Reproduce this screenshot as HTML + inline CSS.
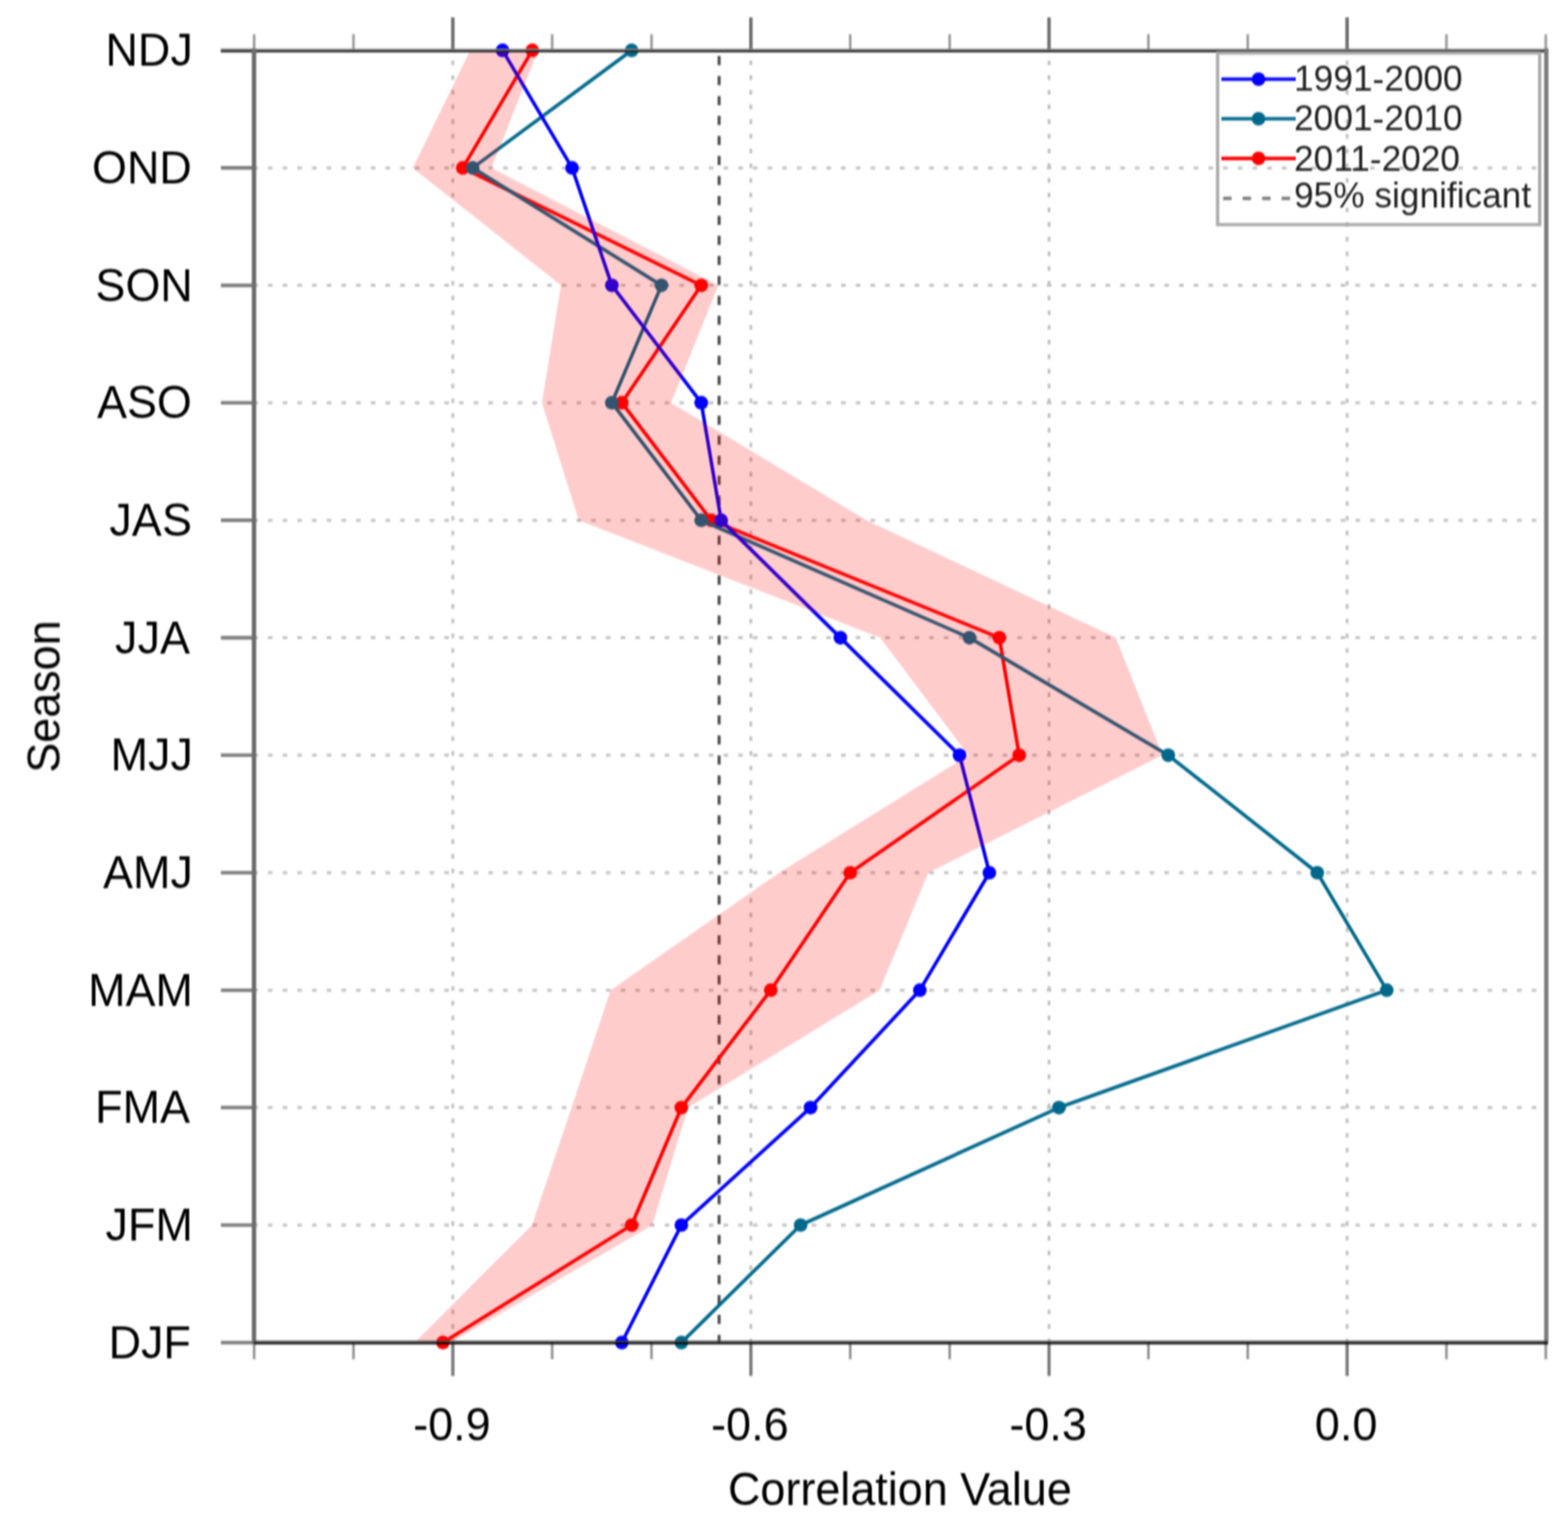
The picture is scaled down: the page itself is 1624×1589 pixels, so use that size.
<!DOCTYPE html>
<html><head><meta charset="utf-8"><title>Correlation by season</title>
<style>html,body{margin:0;padding:0;background:#fff;}svg{display:block;}text{font-family:'Liberation Sans', Arial, Helvetica, sans-serif;fill:#000;}</style></head><body>
<svg width="1624" height="1589" viewBox="0 0 1624 1589">
<rect width="1624" height="1589" fill="#fff"/>
<defs><clipPath id="pa"><rect x="263.2" y="52.2" width="1337.8" height="1338.5"/></clipPath><filter id="soft" x="0" y="0" width="1624" height="1589" filterUnits="userSpaceOnUse" color-interpolation-filters="sRGB"><feConvolveMatrix order="3 5" kernelMatrix="1 2 1 4 8 4 6 12 6 4 8 4 1 2 1" divisor="64" edgeMode="duplicate"/></filter></defs>
<g filter="url(#soft)">
<g stroke="#c2c2c2" stroke-width="3" stroke-dasharray="4.8 10.42" stroke-dashoffset="0.9"><line x1="263.2" y1="173.9" x2="1601.0" y2="173.9"/><line x1="263.2" y1="295.6" x2="1601.0" y2="295.6"/><line x1="263.2" y1="417.2" x2="1601.0" y2="417.2"/><line x1="263.2" y1="538.9" x2="1601.0" y2="538.9"/><line x1="263.2" y1="660.6" x2="1601.0" y2="660.6"/><line x1="263.2" y1="782.3" x2="1601.0" y2="782.3"/><line x1="263.2" y1="904.0" x2="1601.0" y2="904.0"/><line x1="263.2" y1="1025.7" x2="1601.0" y2="1025.7"/><line x1="263.2" y1="1147.3" x2="1601.0" y2="1147.3"/><line x1="263.2" y1="1269.0" x2="1601.0" y2="1269.0"/></g>
<g stroke="#c2c2c2" stroke-width="3" stroke-dasharray="4.8 10.42" stroke-dashoffset="-10.5"><line x1="469.0" y1="52.2" x2="469.0" y2="1390.7"/><line x1="777.7" y1="52.2" x2="777.7" y2="1390.7"/><line x1="1086.5" y1="52.2" x2="1086.5" y2="1390.7"/><line x1="1395.2" y1="52.2" x2="1395.2" y2="1390.7"/></g>
<line x1="744.8" y1="52.2" x2="744.8" y2="1390.7" stroke="#505050" stroke-width="3.2" stroke-dasharray="9.5 11.2" stroke-dashoffset="-5.8"/>
<polyline points="551.3,52.2 479.3,173.9 726.3,295.6 644.0,417.2 736.6,538.9 1035.0,660.6 1055.6,782.3 880.6,904.0 798.3,1025.7 705.7,1147.3 654.2,1269.0 458.7,1390.7" fill="none" stroke="#ff0000" stroke-width="3.6" stroke-linejoin="round"/><circle cx="551.3" cy="52.2" r="7.1" fill="#ff0000"/><circle cx="479.3" cy="173.9" r="7.1" fill="#ff0000"/><circle cx="726.3" cy="295.6" r="7.1" fill="#ff0000"/><circle cx="644.0" cy="417.2" r="7.1" fill="#ff0000"/><circle cx="736.6" cy="538.9" r="7.1" fill="#ff0000"/><circle cx="1035.0" cy="660.6" r="7.1" fill="#ff0000"/><circle cx="1055.6" cy="782.3" r="7.1" fill="#ff0000"/><circle cx="880.6" cy="904.0" r="7.1" fill="#ff0000"/><circle cx="798.3" cy="1025.7" r="7.1" fill="#ff0000"/><circle cx="705.7" cy="1147.3" r="7.1" fill="#ff0000"/><circle cx="654.2" cy="1269.0" r="7.1" fill="#ff0000"/><circle cx="458.7" cy="1390.7" r="7.1" fill="#ff0000"/>
<polyline points="654.2,52.2 489.6,173.9 685.1,295.6 633.7,417.2 726.3,538.9 1004.1,660.6 1210.0,782.3 1364.3,904.0 1436.3,1025.7 1096.8,1147.3 829.2,1269.0 705.7,1390.7" fill="none" stroke="#00688b" stroke-width="3.6" stroke-linejoin="round"/><circle cx="654.2" cy="52.2" r="7.1" fill="#00688b"/><circle cx="489.6" cy="173.9" r="7.1" fill="#00688b"/><circle cx="685.1" cy="295.6" r="7.1" fill="#00688b"/><circle cx="633.7" cy="417.2" r="7.1" fill="#00688b"/><circle cx="726.3" cy="538.9" r="7.1" fill="#00688b"/><circle cx="1004.1" cy="660.6" r="7.1" fill="#00688b"/><circle cx="1210.0" cy="782.3" r="7.1" fill="#00688b"/><circle cx="1364.3" cy="904.0" r="7.1" fill="#00688b"/><circle cx="1436.3" cy="1025.7" r="7.1" fill="#00688b"/><circle cx="1096.8" cy="1147.3" r="7.1" fill="#00688b"/><circle cx="829.2" cy="1269.0" r="7.1" fill="#00688b"/><circle cx="705.7" cy="1390.7" r="7.1" fill="#00688b"/>
<polyline points="520.5,52.2 592.5,173.9 633.7,295.6 726.3,417.2 746.9,538.9 870.4,660.6 993.8,782.3 1024.7,904.0 952.7,1025.7 839.5,1147.3 705.7,1269.0 644.0,1390.7" fill="none" stroke="#0000ff" stroke-width="3.6" stroke-linejoin="round"/><circle cx="520.5" cy="52.2" r="7.1" fill="#0000ff"/><circle cx="592.5" cy="173.9" r="7.1" fill="#0000ff"/><circle cx="633.7" cy="295.6" r="7.1" fill="#0000ff"/><circle cx="726.3" cy="417.2" r="7.1" fill="#0000ff"/><circle cx="746.9" cy="538.9" r="7.1" fill="#0000ff"/><circle cx="870.4" cy="660.6" r="7.1" fill="#0000ff"/><circle cx="993.8" cy="782.3" r="7.1" fill="#0000ff"/><circle cx="1024.7" cy="904.0" r="7.1" fill="#0000ff"/><circle cx="952.7" cy="1025.7" r="7.1" fill="#0000ff"/><circle cx="839.5" cy="1147.3" r="7.1" fill="#0000ff"/><circle cx="705.7" cy="1269.0" r="7.1" fill="#0000ff"/><circle cx="644.0" cy="1390.7" r="7.1" fill="#0000ff"/>
<polygon clip-path="url(#pa)" points="487.0,52.2 427.5,173.9 581.0,295.6 561.3,417.2 599.4,538.9 911.5,660.6 1003.0,782.3 807.0,904.0 632.4,1025.7 592.0,1147.3 551.0,1269.0 537,1283 429.5,1390.7 467.0,1390.7 675.6,1269.0 712.5,1147.3 911.0,1025.7 961.5,904.0 1204.0,782.3 1155.6,660.6 897.6,538.9 695.0,417.2 744.0,295.6 509.0,173.9 557.4,52.2" fill="#ff0000" fill-opacity="0.2"/>
<line x1="228.8" y1="52.2" x2="263.2" y2="52.2" stroke="#7a7a7a" stroke-width="3.6"/><line x1="228.8" y1="173.9" x2="263.2" y2="173.9" stroke="#7a7a7a" stroke-width="3.6"/><line x1="228.8" y1="295.6" x2="263.2" y2="295.6" stroke="#7a7a7a" stroke-width="3.6"/><line x1="228.8" y1="417.2" x2="263.2" y2="417.2" stroke="#7a7a7a" stroke-width="3.6"/><line x1="228.8" y1="538.9" x2="263.2" y2="538.9" stroke="#7a7a7a" stroke-width="3.6"/><line x1="228.8" y1="660.6" x2="263.2" y2="660.6" stroke="#7a7a7a" stroke-width="3.6"/><line x1="228.8" y1="782.3" x2="263.2" y2="782.3" stroke="#7a7a7a" stroke-width="3.6"/><line x1="228.8" y1="904.0" x2="263.2" y2="904.0" stroke="#7a7a7a" stroke-width="3.6"/><line x1="228.8" y1="1025.7" x2="263.2" y2="1025.7" stroke="#7a7a7a" stroke-width="3.6"/><line x1="228.8" y1="1147.3" x2="263.2" y2="1147.3" stroke="#7a7a7a" stroke-width="3.6"/><line x1="228.8" y1="1269.0" x2="263.2" y2="1269.0" stroke="#7a7a7a" stroke-width="3.6"/><line x1="228.8" y1="1390.7" x2="263.2" y2="1390.7" stroke="#7a7a7a" stroke-width="3.6"/><line x1="263.2" y1="35.5" x2="263.2" y2="52.2" stroke="#9e9e9e" stroke-width="2.8"/><line x1="263.2" y1="1390.7" x2="263.2" y2="1408" stroke="#979797" stroke-width="2.8"/><line x1="366.1" y1="35.5" x2="366.1" y2="52.2" stroke="#9e9e9e" stroke-width="2.8"/><line x1="366.1" y1="1390.7" x2="366.1" y2="1408" stroke="#979797" stroke-width="2.8"/><line x1="469.0" y1="18" x2="469.0" y2="52.2" stroke="#707070" stroke-width="3.6"/><line x1="469.0" y1="1390.7" x2="469.0" y2="1425.3" stroke="#7c7c7c" stroke-width="3.4"/><line x1="571.9" y1="35.5" x2="571.9" y2="52.2" stroke="#9e9e9e" stroke-width="2.8"/><line x1="571.9" y1="1390.7" x2="571.9" y2="1408" stroke="#979797" stroke-width="2.8"/><line x1="674.8" y1="35.5" x2="674.8" y2="52.2" stroke="#9e9e9e" stroke-width="2.8"/><line x1="674.8" y1="1390.7" x2="674.8" y2="1408" stroke="#979797" stroke-width="2.8"/><line x1="777.7" y1="18" x2="777.7" y2="52.2" stroke="#707070" stroke-width="3.6"/><line x1="777.7" y1="1390.7" x2="777.7" y2="1425.3" stroke="#7c7c7c" stroke-width="3.4"/><line x1="880.6" y1="35.5" x2="880.6" y2="52.2" stroke="#9e9e9e" stroke-width="2.8"/><line x1="880.6" y1="1390.7" x2="880.6" y2="1408" stroke="#979797" stroke-width="2.8"/><line x1="983.6" y1="35.5" x2="983.6" y2="52.2" stroke="#9e9e9e" stroke-width="2.8"/><line x1="983.6" y1="1390.7" x2="983.6" y2="1408" stroke="#979797" stroke-width="2.8"/><line x1="1086.5" y1="18" x2="1086.5" y2="52.2" stroke="#707070" stroke-width="3.6"/><line x1="1086.5" y1="1390.7" x2="1086.5" y2="1425.3" stroke="#7c7c7c" stroke-width="3.4"/><line x1="1189.4" y1="35.5" x2="1189.4" y2="52.2" stroke="#9e9e9e" stroke-width="2.8"/><line x1="1189.4" y1="1390.7" x2="1189.4" y2="1408" stroke="#979797" stroke-width="2.8"/><line x1="1292.3" y1="35.5" x2="1292.3" y2="52.2" stroke="#9e9e9e" stroke-width="2.8"/><line x1="1292.3" y1="1390.7" x2="1292.3" y2="1408" stroke="#979797" stroke-width="2.8"/><line x1="1395.2" y1="18" x2="1395.2" y2="52.2" stroke="#707070" stroke-width="3.6"/><line x1="1395.2" y1="1390.7" x2="1395.2" y2="1425.3" stroke="#7c7c7c" stroke-width="3.4"/><line x1="1498.1" y1="35.5" x2="1498.1" y2="52.2" stroke="#9e9e9e" stroke-width="2.8"/><line x1="1498.1" y1="1390.7" x2="1498.1" y2="1408" stroke="#979797" stroke-width="2.8"/><line x1="1601.0" y1="35.5" x2="1601.0" y2="52.2" stroke="#9e9e9e" stroke-width="2.8"/><line x1="1601.0" y1="1390.7" x2="1601.0" y2="1408" stroke="#979797" stroke-width="2.8"/>
<line x1="228.8" y1="51.25" x2="1603.2" y2="51.25" stroke="#8c8c8c" stroke-width="1.5"/>
<line x1="228.8" y1="53.1" x2="1603.2" y2="53.1" stroke="#262626" stroke-width="2.2"/>
<line x1="263.1" y1="50.2" x2="263.1" y2="1392.5" stroke="#6e6e6e" stroke-width="4.6"/>
<line x1="1601.5" y1="50.2" x2="1601.5" y2="1392.5" stroke="#7a7a7a" stroke-width="4.4"/>
<line x1="263.2" y1="1389.6" x2="1602.8" y2="1389.6" stroke="#4a4a4a" stroke-width="1.6"/>
<line x1="263.2" y1="1391.5" x2="1602.8" y2="1391.5" stroke="#000" stroke-width="2.2"/>
<text transform="translate(199.7 68.1) scale(0.96 1)" text-anchor="end" font-size="48.5">NDJ</text><text transform="translate(198.7 189.8) scale(0.96 1)" text-anchor="end" font-size="48.5">OND</text><text transform="translate(199.7 311.5) scale(0.96 1)" text-anchor="end" font-size="48.5">SON</text><text transform="translate(198.7 433.1) scale(0.96 1)" text-anchor="end" font-size="48.5">ASO</text><text transform="translate(198.7 554.8) scale(0.96 1)" text-anchor="end" font-size="48.5">JAS</text><text transform="translate(196.7 676.5) scale(0.96 1)" text-anchor="end" font-size="48.5">JJA</text><text transform="translate(199.7 798.2) scale(0.96 1)" text-anchor="end" font-size="48.5">MJJ</text><text transform="translate(199.7 919.9) scale(0.96 1)" text-anchor="end" font-size="48.5">AMJ</text><text transform="translate(199.7 1041.6) scale(0.96 1)" text-anchor="end" font-size="48.5">MAM</text><text transform="translate(196.7 1163.2) scale(0.96 1)" text-anchor="end" font-size="48.5">FMA</text><text transform="translate(199.7 1284.9) scale(0.96 1)" text-anchor="end" font-size="48.5">JFM</text><text transform="translate(197.7 1406.6) scale(0.96 1)" text-anchor="end" font-size="48.5">DJF</text>
<text transform="translate(468.0 1491.5) scale(0.96 1)" text-anchor="middle" font-size="48.5">-0.9</text><text transform="translate(776.7 1491.5) scale(0.96 1)" text-anchor="middle" font-size="48.5">-0.6</text><text transform="translate(1085.5 1491.5) scale(0.96 1)" text-anchor="middle" font-size="48.5">-0.3</text><text transform="translate(1394.2 1491.5) scale(0.96 1)" text-anchor="middle" font-size="48.5">0.0</text>
<text transform="translate(932 1558.5) scale(0.96 1)" text-anchor="middle" font-size="48.5">Correlation Value</text>
<text transform="translate(61.8 721.5) rotate(-90) scale(0.96 1)" text-anchor="middle" font-size="48.5">Season</text>
<rect x="1261.1" y="54.9" width="333.6" height="177.8" fill="none" stroke="#ababab" stroke-width="3.4"/><line x1="1265" y1="82.0" x2="1342" y2="82.0" stroke="#0000ff" stroke-width="3.6"/><circle cx="1303.5" cy="82.0" r="7.1" fill="#0000ff"/><text x="1340.3" y="94.4" font-size="36.5" style="fill:#222">1991-2000</text><line x1="1265" y1="123.0" x2="1342" y2="123.0" stroke="#00688b" stroke-width="3.6"/><circle cx="1303.5" cy="123.0" r="7.1" fill="#00688b"/><text x="1340.3" y="135.4" font-size="36.5" style="fill:#222">2001-2010</text><line x1="1265" y1="164.1" x2="1342" y2="164.1" stroke="#ff0000" stroke-width="3.6"/><circle cx="1303.5" cy="164.1" r="7.1" fill="#ff0000"/><text x="1340.3" y="176.5" font-size="36.5" style="fill:#222">2011-2020</text><line x1="1266.8" y1="205.5" x2="1342" y2="205.5" stroke="#7c7c7c" stroke-width="3.6" stroke-dasharray="8.8 11.4"/><text x="1340.3" y="214.9" font-size="36.5" style="fill:#222">95% significant</text>
</g></svg></body></html>
